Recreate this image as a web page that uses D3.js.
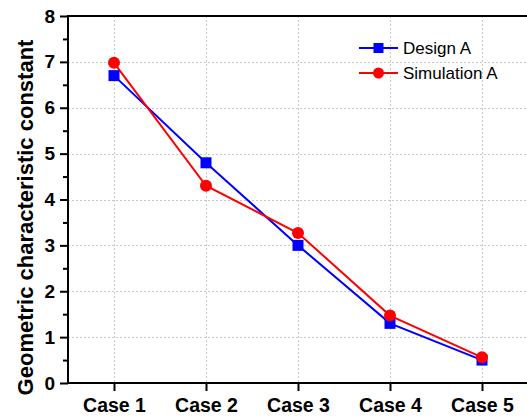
<!DOCTYPE html>
<html>
<head>
<meta charset="utf-8">
<script src="https://cdn.jsdelivr.net/npm/d3@7"></script>
<style>
  html, body { margin: 0; padding: 0; background: #fff; }
  svg { display: block; }
</style>
</head>
<body>
<svg id="chart" width="527" height="418"></svg>
<script>
const categories = ["Case 1", "Case 2", "Case 3", "Case 4", "Case 5"];
const designA = [6.7, 4.8, 3.0, 1.3, 0.5];
const simulationA = [6.98, 4.3, 3.27, 1.47, 0.56];
const yTicks = [0, 1, 2, 3, 4, 5, 6, 7, 8];
const yMinorTicks = [0.5, 1.5, 2.5, 3.5, 4.5, 5.5, 6.5, 7.5];
const seriesNames = ["Design A", "Simulation A"];

const svg = d3.select("#chart");
const margin = { left: 68, top: 16, right: 528, bottom: 383 };

const x = d3.scalePoint().domain(categories).range([margin.left, margin.right]).padding(0.5);
const y = d3.scaleLinear().domain([0, 8]).range([margin.bottom, margin.top]);

const font = "'Liberation Sans', Arial, sans-serif";

// grid
const grid = svg.append("g").attr("stroke", "#c8c8c8").attr("stroke-width", 1).attr("stroke-dasharray", "2,2");
grid.selectAll("line.h").data(yTicks.filter(d => d > 0 && d < 8)).join("line")
  .attr("x1", margin.left).attr("x2", margin.right)
  .attr("y1", d => Math.round(y(d)) + 0.5).attr("y2", d => Math.round(y(d)) + 0.5);
grid.selectAll("line.v").data(categories).join("line")
  .attr("x1", d => Math.round(x(d)) + 0.5).attr("x2", d => Math.round(x(d)) + 0.5)
  .attr("y1", margin.top).attr("y2", margin.bottom);

// y axis
const yAxis = svg.append("g").attr("transform", `translate(${margin.left},0)`)
  .call(d3.axisLeft(y).tickValues(yTicks).tickSize(8).tickPadding(5).tickFormat(d3.format("d")));
yAxis.select(".domain").remove();
yAxis.selectAll(".tick line").attr("stroke", "#000").attr("stroke-width", 2);
yAxis.selectAll(".tick text").attr("font-family", font).attr("font-weight", "bold")
  .attr("font-size", 19).attr("fill", "#000");
const yMinor = svg.append("g").attr("transform", `translate(${margin.left},0)`)
  .call(d3.axisLeft(y).tickValues(yMinorTicks).tickSize(5).tickFormat(""));
yMinor.select(".domain").remove();
yMinor.selectAll(".tick line").attr("stroke", "#000").attr("stroke-width", 2);

// x axis
const xAxis = svg.append("g").attr("transform", `translate(0,${margin.bottom})`)
  .call(d3.axisBottom(x).tickSize(8).tickPadding(7));
xAxis.select(".domain").remove();
xAxis.selectAll(".tick line").attr("stroke", "#000").attr("stroke-width", 2);
xAxis.selectAll(".tick text").attr("font-family", font).attr("font-weight", "bold")
  .attr("font-size", 19.5).attr("fill", "#000");

// frame lines
svg.append("line").attr("x1", margin.left).attr("x2", margin.left)
  .attr("y1", margin.top - 1).attr("y2", margin.bottom + 1).attr("stroke", "#000").attr("stroke-width", 2);
svg.append("line").attr("x1", margin.left - 1).attr("x2", margin.right)
  .attr("y1", margin.bottom).attr("y2", margin.bottom).attr("stroke", "#000").attr("stroke-width", 2);
svg.append("line").attr("x1", margin.left - 1).attr("x2", margin.right)
  .attr("y1", margin.top).attr("y2", margin.top).attr("stroke", "#000").attr("stroke-width", 2);

// y axis title
svg.append("text")
  .attr("transform", `translate(33,${(margin.top + margin.bottom) / 2 + 18}) rotate(-90)`)
  .attr("text-anchor", "middle").attr("font-family", font).attr("font-weight", "bold")
  .attr("font-size", 22).attr("fill", "#000").text("Geometric characteristic constant");

// series
const line = d3.line().x((d, i) => x(categories[i])).y(d => y(d));
const blue = "#0000ff", red = "#ff0000";

svg.append("path").datum(designA).attr("d", line).attr("fill", "none").attr("stroke", blue).attr("stroke-width", 2);
svg.append("path").datum(simulationA).attr("d", line).attr("fill", "none").attr("stroke", red).attr("stroke-width", 2);

const sq = 11;
svg.selectAll("rect.design").data(designA).join("rect")
  .attr("x", (d, i) => x(categories[i]) - sq / 2).attr("y", d => y(d) - sq / 2)
  .attr("width", sq).attr("height", sq).attr("fill", blue);
svg.selectAll("circle.sim").data(simulationA).join("circle")
  .attr("cx", (d, i) => x(categories[i])).attr("cy", d => y(d)).attr("r", 6).attr("fill", red);

// legend
const legend = svg.append("g").attr("font-family", font).attr("font-size", 17);
const rows = [{ name: seriesNames[0], color: blue, shape: "square", yy: 48 },
              { name: seriesNames[1], color: red, shape: "circle", yy: 73 }];
rows.forEach(r => {
  legend.append("line").attr("x1", 359).attr("x2", 398).attr("y1", r.yy).attr("y2", r.yy)
    .attr("stroke", r.color).attr("stroke-width", 2);
  if (r.shape === "square") {
    legend.append("rect").attr("x", 378.5 - 5).attr("y", r.yy - 5).attr("width", 10).attr("height", 10).attr("fill", r.color);
  } else {
    legend.append("circle").attr("cx", 378.5).attr("cy", r.yy).attr("r", 5.5).attr("fill", r.color);
  }
  legend.append("text").attr("x", 403).attr("y", r.yy + 6).attr("fill", "#000").text(r.name);
});
</script>
</body>
</html>
